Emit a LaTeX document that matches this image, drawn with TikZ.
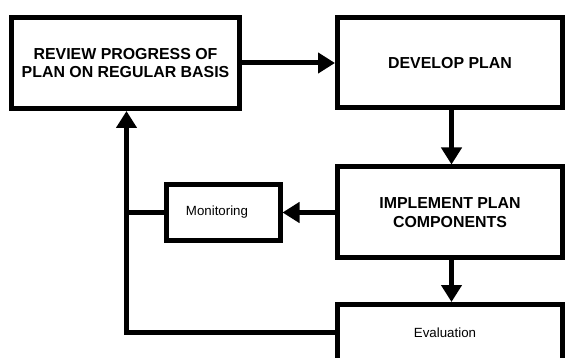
\documentclass[tikz,border=0pt]{standalone}
\usepackage{fontspec}
\setmainfont{Liberation Sans}
\usetikzlibrary{arrows.meta}
\begin{document}
\begin{tikzpicture}[x=1pt,y=-1pt,
  box/.style={draw=black,line width=5pt,fill=white,inner sep=0pt,align=center,
    outer sep=2.5pt},
  bigtext/.style={font=\bfseries\fontsize{15.9}{18.5}\selectfont},
  smalltext/.style={font=\fontsize{13.3}{16}\selectfont},
  arr/.style={line width=5pt,-{Triangle[length=17pt,width=20pt]}},
  conn/.style={line width=5pt}]
\clip (0,0) rectangle (565,358);
\useasboundingbox (0,0) rectangle (565,358);
\node[box,bigtext,minimum width=228pt,minimum height=91pt] (review) at (125.5,63)
  {REVIEW PROGRESS OF\\PLAN ON REGULAR BASIS};
\node[box,bigtext,minimum width=225pt,minimum height=90.5pt] (develop) at (450,62.75)
  {DEVELOP PLAN};
\node[box,bigtext,minimum width=225pt,minimum height=91pt] (implement) at (450,212.5)
  {IMPLEMENT PLAN\\COMPONENTS};
\node[box,smalltext,minimum width=114pt,minimum height=56pt] (monitor) at (223,212.5)
  {Monitoring\hspace*{12pt}};
\node[box,smalltext,minimum width=225pt,minimum height=57.5pt] (eval) at (450,333.25)
  {\raisebox{1.2pt}{Evaluation}\hspace*{10pt}};
\coordinate (cm) at (126.5,212.5);
\coordinate (cl) at (126.5,332);
\draw[arr] (review.east) -- (review.east -| develop.west);
\draw[arr] ([xshift=1.5pt]develop.south) -- ([xshift=1.5pt]implement.north);
\draw[arr] (implement.west) -- (monitor.east);
\draw[arr] ([xshift=1.5pt]implement.south) -- ([xshift=1.5pt]eval.north);
\draw[conn] (monitor.west) -- ([xshift=-2.5pt]cm);
\draw[arr] (eval.west |- cl) -- (cl) -- (review.south -| cl);
\end{tikzpicture}
\end{document}
